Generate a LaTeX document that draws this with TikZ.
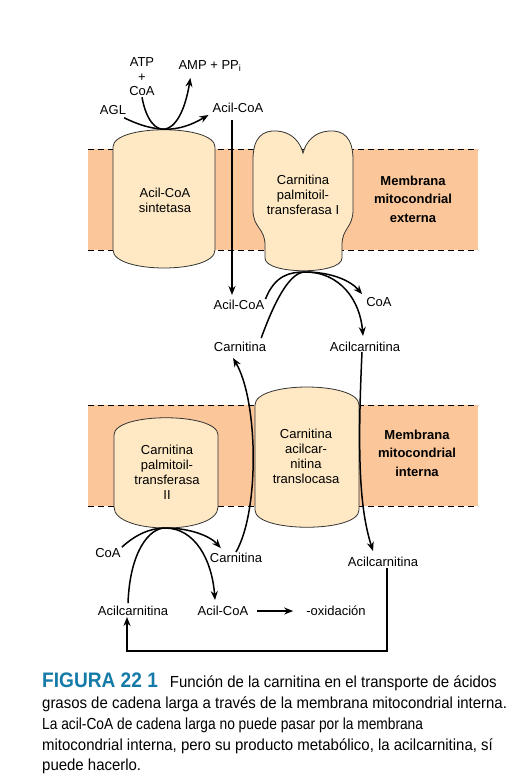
\documentclass[tikz,border=0pt]{standalone}
\usepackage{fontspec}
\setmainfont{Liberation Sans}
\newfontfamily\capfont[FakeStretch=0.935]{Liberation Sans}
\newfontfamily\capfontnarrow[FakeStretch=0.86]{Liberation Sans}
\newfontfamily\titlefont[FakeStretch=0.91]{Liberation Sans}
\usetikzlibrary{arrows.meta, calc}
\definecolor{membfill}{RGB}{250,198,154}
\definecolor{protfill}{RGB}{254,233,196}
\definecolor{capblue}{RGB}{20,122,168}
\tikzset{ lbl/.style = { font         = \fontsize{13}{15}\selectfont
                       , align        = center
                       , inner sep    = 1pt
                       },
          mlbl/.style = { font        = \fontsize{13}{18.5}\selectfont\bfseries
                        , align       = center
                        , inner sep   = 1pt
                        },
          prot/.style = { draw        = black!80
                        , fill        = protfill
                        , line width  = 0.8pt
                        },
          memb/.style = { fill        = membfill
                        },
          edge/.style = { dashed
                        , dash pattern = on 6pt off 4pt
                        , line width   = 0.8pt
                        },
          flow/.style = { -{Stealth[length=9pt, width=7pt]}
                        , line width   = 1.5pt
                        },
          captext/.style = { anchor    = base west
                           , inner sep = 0pt
                           , font      = \capfont\fontsize{16}{20}\selectfont
                           }
        }
\begin{document}
\begin{tikzpicture}[x=1pt, y=-1pt]
    \useasboundingbox (0,0) rectangle (528,782);
    % membranes
    \fill[memb] (88,149) rectangle (478,250);
    \draw[edge] (88,149) -- (478,149);
    \draw[edge] (88,250) -- (478,250);
    \fill[memb] (88,405) rectangle (478,506);
    \draw[edge] (88,405) -- (478,405);
    \draw[edge] (88,506) -- (478,506);
    % proteins
    \draw[prot] (113,147) .. controls (113,124) and (215,124) .. (215,147)
        -- (215,250) .. controls (215,274) and (113,274) .. (113,250) -- cycle;
    \draw[prot] (253,160) .. controls (253,138) and (262,130) .. (277,131)
        .. controls (292,132) and (300,142) .. (303,153)
        .. controls (306,142) and (314,132) .. (329,131)
        .. controls (344,130) and (353,138) .. (353,160)
        -- (353,210) .. controls (353,228) and (342,228) .. (342,245)
        -- (342,258) .. controls (342,275) and (265,275) .. (265,258)
        -- (265,245) .. controls (265,228) and (253,228) .. (253,210) -- cycle;
    \draw[prot] (255,405) .. controls (255,381) and (359,381) .. (359,405)
        -- (359,510) .. controls (359,533) and (255,533) .. (255,510) -- cycle;
    \draw[prot] (114,435) .. controls (114,412) and (218,412) .. (218,435)
        -- (218,507) .. controls (218,535) and (114,535) .. (114,507) -- cycle;
    \coordinate (cptIBot) at (305,272);
    \coordinate (cptIIBot) at (165,528);
    % texts
    \node[lbl] (sint) at (165,200) {Acil-CoA\\sintetasa};
    \node[lbl] (cptI) at (303,195) {Carnitina\\palmitoil-\\transferasa I};
    \node[lbl] (cptII) at (167,472) {Carnitina\\palmitoil-\\transferasa\\II};
    \node[lbl] (transl) at (306,456) {Carnitina\\acilcar-\\nitina\\translocasa};
    \node[mlbl] (mext) at (413,199) {Membrana\\mitocondrial\\externa};
    \node[mlbl] (mint) at (417,453) {Membrana\\mitocondrial\\interna};
    \node[lbl, font=\fontsize{13}{14.5}\selectfont] (atp) at (142,77) {ATP\\+\\CoA};
    \node[lbl] (amp) at (210,66) {AMP + PP\textsubscript{i}};
    \node[lbl] (agl) at (113,110) {AGL};
    \node[lbl] (acoaA) at (238,108) {Acil-CoA};
    \node[lbl] (acoaB) at (239,305) {Acil-CoA};
    \node[lbl] (coaA) at (379,302) {CoA};
    \node[lbl] (carnA) at (240,347) {Carnitina};
    \node[lbl] (acarnA) at (365,347) {Acilcarnitina};
    \node[lbl] (acarnB) at (383,562) {Acilcarnitina};
    \node[lbl] (coaB) at (108,553) {CoA};
    \node[lbl] (carnB) at (236,558) {Carnitina};
    \node[lbl] (acarnC) at (133,611) {Acilcarnitina};
    \node[lbl] (acoaC) at (223,611) {Acil-CoA};
    \node[lbl] (oxid) at (336,611) {-oxidación};
    \coordinate (loopR) at (387,651);
    \coordinate (loopL) at (127,651);
    % connectors
    \draw[flow] ($(agl.south east)+(-3,2)$) .. controls (155,133) and (178,133) .. ($(acoaA.south west)+(-3,1)$);
    \draw[flow] (atp.south) .. controls (150,142) and (180,142) .. ($(amp.south west)+(13,5)$);
    \draw[flow] ($(acoaA.south)+(-6,6)$) -- ($(acoaB.north)+(-7,-4)$);
    \draw[line width=1.5pt] (acoaB.north east) .. controls (275,275) and (290,272) .. (cptIBot);
    \draw[flow] (cptIBot) .. controls (330,272) and (350,280) .. ($(coaA.north west)+(-3,-2)$);
    \draw[line width=1.5pt] ($(carnA.north east)+(-6,-3)$) .. controls (275,300) and (290,272) .. (cptIBot);
    \draw[flow] (cptIBot) .. controls (340,272) and (360,300) .. ($(acarnA.north)+(-2,-5)$);
    \draw[flow] ($(acarnA.south)+(-3,-1)$) .. controls (357,460) and (360,510) .. ($(acarnB.north)+(-10,-5)$);
    \draw[flow] (carnB.north) .. controls (260,510) and (258,400) .. ($(carnA.south)+(-7,5)$);
    \draw[line width=1.5pt] (coaB.north east) .. controls (135,535) and (150,528) .. (cptIIBot);
    \draw[flow] (cptIIBot) .. controls (190,528) and (210,536) .. ($(carnB.north west)+(12,-4)$);
    \draw[line width=1.5pt] ($(acarnC.north)+(-5,-2)$) .. controls (130,550) and (150,528) .. (cptIIBot);
    \draw[flow] (cptIIBot) .. controls (195,528) and (212,560) .. ($(acoaC.north)+(-8,-5)$);
    \draw[flow, shorten <=8pt, shorten >=12pt] (acoaC.east) -- (oxid.west);
    \draw[flow] (acarnB.south -| loopR) -- (loopR) -- (loopL) -- (acarnC.south -| loopL);
    % caption
    \node[captext] (cap1) at (42,687) {{\color{capblue}\titlefont\fontsize{21}{20}\selectfont\bfseries FIGURA 22 1}\hspace{12pt}Función de la carnitina en el transporte de ácidos};
    \node[captext] (cap2) at (42,708) {grasos de cadena larga a través de la membrana mitocondrial interna.};
    \node[captext, font=\capfontnarrow\fontsize{16}{20}\selectfont] (cap3) at (42,729) {La acil-CoA de cadena larga no puede pasar por la membrana};
    \node[captext] (cap4) at (42,750) {mitocondrial interna, pero su producto metabólico, la acilcarnitina, sí};
    \node[captext] (cap5) at (42,770) {puede hacerlo.};
\end{tikzpicture}
\end{document}
